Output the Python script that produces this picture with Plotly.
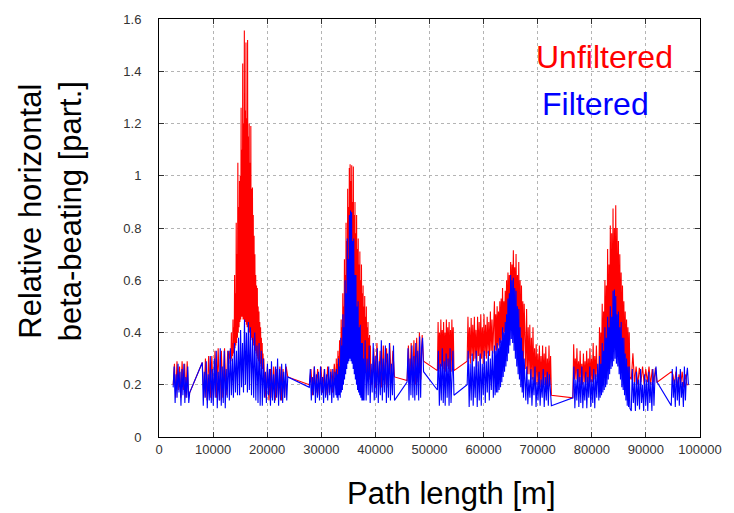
import numpy as np
import plotly.graph_objects as go

# ---- data: path-length ranges [m] and the beta-beating samples inside each ----
filt_s1 = [0.19, 0.27, 0.13, 0.24, 0.15, 0.28, 0.17, 0.25, 0.12, 0.26, 0.16, 0.28, 0.13, 0.23, 0.15, 0.27, 0.13, 0.17]
filt_s3a = [0.285, 0.12, 0.25, 0.15, 0.29, 0.11, 0.24, 0.14, 0.31, 0.13, 0.26, 0.12, 0.30, 0.15, 0.33, 0.11,
            0.25, 0.14, 0.34, 0.12, 0.27, 0.13, 0.33, 0.11, 0.26, 0.15, 0.33]
filt_s3b = [0.14, 0.34, 0.16, 0.30, 0.15, 0.36, 0.17, 0.33, 0.16, 0.38]
filt_s3c = [0.16, 0.41, 0.19, 0.36, 0.17, 0.45, 0.20, 0.40, 0.17, 0.44, 0.18]
filt_s3d = [0.42, 0.16, 0.38, 0.15, 0.40, 0.14, 0.35, 0.13, 0.36, 0.12, 0.33]
filt_s3e = [0.12, 0.30, 0.15, 0.25, 0.13, 0.28, 0.16, 0.26, 0.12, 0.29, 0.14, 0.24, 0.13, 0.27, 0.15, 0.30,
            0.12, 0.26, 0.14, 0.28, 0.13, 0.25, 0.15, 0.28, 0.14, 0.23]
filt_s5a = [0.19, 0.26, 0.14, 0.23, 0.16, 0.27, 0.13, 0.24, 0.15, 0.25, 0.14, 0.27, 0.16, 0.23, 0.13, 0.26,
            0.15, 0.24, 0.14, 0.27, 0.16, 0.25, 0.13, 0.26, 0.15, 0.25]
filt_s5b = [0.16, 0.26, 0.15, 0.24, 0.14, 0.30, 0.16, 0.27, 0.15, 0.38, 0.17, 0.35, 0.18, 0.47, 0.20, 0.42,
            0.22, 0.60, 0.24, 0.55, 0.26, 0.76, 0.28, 0.68, 0.29, 0.85, 0.30, 0.867, 0.29, 0.86, 0.28, 0.75,
            0.26, 0.76, 0.24, 0.62, 0.22, 0.62, 0.20, 0.50, 0.18, 0.52, 0.17, 0.42, 0.16, 0.43, 0.15, 0.36,
            0.14, 0.36, 0.14, 0.30, 0.14]
filt_s5c = [0.37, 0.14, 0.30, 0.16, 0.35, 0.13, 0.28, 0.17, 0.36, 0.14, 0.31, 0.15, 0.34, 0.13, 0.29, 0.16,
            0.37, 0.14, 0.30, 0.17, 0.35, 0.13, 0.32, 0.15, 0.36, 0.14, 0.28, 0.16, 0.35, 0.14]
filt_s7 = [0.21, 0.34, 0.14, 0.30, 0.16, 0.35, 0.15, 0.31, 0.14, 0.36, 0.16, 0.33, 0.14, 0.385, 0.15, 0.34, 0.38, 0.25]
filt_s8 = [0.18, 0.33, 0.12, 0.28, 0.14, 0.34, 0.13, 0.29, 0.12, 0.32, 0.15, 0.30, 0.12, 0.34, 0.13, 0.28, 0.33, 0.16]
filt_s9a = [0.20, 0.33, 0.115, 0.28, 0.14, 0.32, 0.12, 0.27, 0.15, 0.33, 0.115, 0.29, 0.14, 0.32, 0.12, 0.28,
            0.16, 0.33, 0.13, 0.29, 0.17, 0.33, 0.14, 0.30, 0.18, 0.33, 0.15]
filt_s9b = [0.35, 0.16, 0.33, 0.17, 0.36, 0.17, 0.34, 0.18, 0.38, 0.19, 0.37, 0.21, 0.42, 0.23, 0.40, 0.25,
            0.44, 0.27, 0.47, 0.29, 0.53, 0.32, 0.55, 0.35, 0.62, 0.375, 0.60, 0.36, 0.61, 0.33, 0.57, 0.30,
            0.56, 0.27, 0.50, 0.24, 0.49, 0.22, 0.42, 0.19, 0.38, 0.17, 0.33, 0.15, 0.30]
filt_s9c = [0.14, 0.27, 0.125, 0.22, 0.15, 0.26, 0.12, 0.23, 0.16, 0.27, 0.115, 0.21, 0.14, 0.25, 0.12, 0.22,
            0.15, 0.26, 0.115, 0.23, 0.14, 0.25, 0.12, 0.24, 0.15, 0.12]
filt_s11a = [0.15, 0.27, 0.11, 0.22, 0.14, 0.26, 0.115, 0.23, 0.13, 0.27, 0.11, 0.21, 0.14, 0.25, 0.11, 0.23,
             0.15, 0.27, 0.115, 0.22, 0.13, 0.26, 0.11, 0.24, 0.15, 0.28]
filt_s11b = [0.14, 0.31, 0.15, 0.28, 0.16, 0.36, 0.17, 0.33, 0.18, 0.42, 0.19, 0.38, 0.20, 0.46, 0.22, 0.42,
             0.24, 0.50, 0.26, 0.46, 0.27, 0.56, 0.29, 0.565, 0.30, 0.54, 0.28, 0.47, 0.27, 0.48, 0.24, 0.42,
             0.22, 0.44, 0.19, 0.38, 0.18, 0.38, 0.16, 0.32, 0.14, 0.30, 0.12, 0.27, 0.115, 0.27, 0.11]
filt_s11c = [0.10, 0.26, 0.13, 0.21, 0.10, 0.25, 0.12, 0.22, 0.105, 0.26, 0.13, 0.20, 0.10, 0.24, 0.12, 0.22,
             0.10, 0.25, 0.13, 0.21, 0.10, 0.26, 0.12, 0.23, 0.27, 0.21]
filt_s13 = [0.12, 0.26, 0.15, 0.22, 0.115, 0.27, 0.14, 0.23, 0.12, 0.26, 0.15, 0.21, 0.115, 0.27, 0.14, 0.23, 0.265, 0.20]

unf_s1 = [0.20, 0.28, 0.15, 0.29, 0.18, 0.27, 0.15, 0.29, 0.18, 0.28, 0.15, 0.29, 0.16, 0.17]
unf_s3a = [0.285, 0.15, 0.30, 0.14, 0.31, 0.15, 0.31, 0.14, 0.33, 0.15, 0.34, 0.14, 0.33, 0.15, 0.34, 0.16, 0.33]
unf_s3b = [0.30, 0.33, 0.28, 0.30, 0.29, 0.40, 0.30, 0.36, 0.31, 0.45, 0.32, 0.42, 0.33, 0.62, 0.34, 0.55,
           0.35, 0.82, 0.36, 0.70, 0.38, 1.05, 0.40, 0.88, 0.42, 0.98, 0.44, 1.00, 0.45, 1.26, 0.46, 1.10,
           0.46, 1.43, 0.45, 1.20, 0.45, 1.556, 0.44, 1.25, 0.44, 1.51, 0.43, 1.22, 0.42, 1.52, 0.42, 1.15,
           0.41, 1.20, 0.40, 1.05, 0.39, 1.19, 0.38, 0.95, 0.37, 0.955, 0.36, 0.85, 0.35, 0.77, 0.34, 0.70,
           0.33, 0.62, 0.32, 0.58, 0.31, 0.57, 0.30, 0.50, 0.29, 0.48, 0.28, 0.44, 0.28, 0.42, 0.27, 0.38,
           0.26, 0.36, 0.26, 0.32, 0.25, 0.30, 0.25]
unf_s3c = [0.15, 0.27, 0.14, 0.26, 0.15, 0.27, 0.14, 0.26, 0.15, 0.27, 0.14, 0.26, 0.15, 0.27, 0.23]
unf_s5a = [0.20, 0.26, 0.16, 0.27, 0.17, 0.26, 0.16, 0.27, 0.17, 0.26, 0.16, 0.27, 0.17, 0.26, 0.17, 0.28]
unf_s5b = [0.20, 0.30, 0.21, 0.28, 0.22, 0.33, 0.23, 0.31, 0.24, 0.37, 0.25, 0.34, 0.26, 0.45, 0.27, 0.42,
           0.28, 0.55, 0.29, 0.50, 0.30, 0.68, 0.32, 0.62, 0.34, 0.82, 0.36, 0.75, 0.38, 0.95, 0.40, 0.88,
           0.42, 1.03, 0.42, 1.044, 0.42, 0.98, 0.41, 1.04, 0.40, 0.90, 0.39, 1.035, 0.38, 0.85, 0.37, 0.90,
           0.36, 0.78, 0.35, 0.85, 0.34, 0.72, 0.33, 0.76, 0.32, 0.66, 0.31, 0.71, 0.30, 0.60, 0.29, 0.66,
           0.28, 0.55, 0.27, 0.58, 0.27, 0.50, 0.26, 0.54, 0.25, 0.46, 0.25, 0.50, 0.24, 0.42, 0.24, 0.44,
           0.23, 0.38, 0.23, 0.39, 0.22, 0.35, 0.22]
unf_s5c = [0.20, 0.34, 0.19, 0.36, 0.20, 0.33, 0.19, 0.35, 0.20, 0.34, 0.19, 0.36, 0.21, 0.33, 0.23]
unf_s7 = [0.216, 0.35, 0.20, 0.36, 0.21, 0.37, 0.20, 0.38, 0.21, 0.40, 0.22, 0.39, 0.29]
unf_s8 = [0.254, 0.44, 0.26, 0.40, 0.25, 0.45, 0.27, 0.41, 0.26, 0.44, 0.25, 0.40, 0.25, 0.45, 0.27, 0.42,
          0.26, 0.44, 0.25, 0.41, 0.25, 0.45, 0.27, 0.42, 0.254]
unf_s9a = [0.29, 0.46, 0.30, 0.42, 0.28, 0.455, 0.31, 0.43, 0.29, 0.46, 0.30, 0.41, 0.27, 0.46, 0.31, 0.44,
           0.29, 0.47, 0.30, 0.42, 0.28, 0.47, 0.31, 0.43, 0.30, 0.46, 0.32, 0.44, 0.31, 0.48, 0.33, 0.45, 0.32]
unf_s9b = [0.52, 0.33, 0.47, 0.33, 0.50, 0.34, 0.48, 0.35, 0.52, 0.36, 0.53, 0.37, 0.57, 0.38, 0.52, 0.40,
           0.56, 0.42, 0.60, 0.44, 0.63, 0.46, 0.62, 0.48, 0.67, 0.50, 0.66, 0.49, 0.715, 0.48, 0.65, 0.45,
           0.70, 0.42, 0.62, 0.39, 0.67, 0.36, 0.60, 0.33, 0.58, 0.30, 0.52, 0.28, 0.51]
unf_s9c = [0.26, 0.49, 0.24, 0.42, 0.24, 0.43, 0.22, 0.38, 0.22, 0.42, 0.21, 0.34, 0.21, 0.355, 0.20, 0.32,
           0.20, 0.35, 0.19, 0.31, 0.19, 0.35, 0.20, 0.32, 0.20, 0.345, 0.19, 0.30, 0.19, 0.35, 0.20, 0.31, 0.16]
unf_s11a = [0.15, 0.355, 0.22, 0.30, 0.22, 0.34, 0.21, 0.29, 0.21, 0.33, 0.20, 0.28, 0.20, 0.32, 0.21, 0.29,
            0.21, 0.33, 0.20, 0.30, 0.20, 0.34, 0.21, 0.30, 0.21, 0.36, 0.22, 0.31, 0.22, 0.35, 0.23]
unf_s11b = [0.24, 0.42, 0.25, 0.40, 0.26, 0.51, 0.27, 0.48, 0.28, 0.60, 0.29, 0.58, 0.30, 0.72, 0.32, 0.66,
            0.33, 0.81, 0.35, 0.78, 0.36, 0.875, 0.37, 0.80, 0.38, 0.887, 0.37, 0.80, 0.36, 0.75, 0.35, 0.70,
            0.33, 0.63, 0.31, 0.58, 0.30, 0.52, 0.28, 0.48, 0.27, 0.45, 0.25, 0.42, 0.24, 0.40, 0.23]
unf_s11c = [0.22, 0.32, 0.21, 0.27, 0.20, 0.265, 0.21, 0.27, 0.20, 0.26, 0.21, 0.27, 0.20, 0.26, 0.21, 0.265, 0.21]
unf_s13 = [0.25, 0.24, 0.20, 0.25, 0.19, 0.24, 0.20, 0.25, 0.19, 0.24, 0.20, 0.20]

filt_ranges = [(2620, 5680), (8000, 12800), (13000, 14700), (14900, 16700), (16900, 18900), (19100, 23800),
               (27780, 32500), (32700, 37900), (38100, 43530), (45850, 48900), (51460, 54520),
               (56960, 61800), (62000, 67500), (67800, 72530), (76500, 81100), (81300, 87050),
               (87300, 92060), (94690, 97860)]
filt_chunks = [filt_s1, filt_s3a, filt_s3b, filt_s3c, filt_s3d, filt_s3e, filt_s5a, filt_s5b, filt_s5c,
               filt_s7, filt_s8, filt_s9a, filt_s9b, filt_s9c, filt_s11a, filt_s11b, filt_s11c, filt_s13]

unf_ranges = [(2620, 5680), (8000, 12700), (13000, 19450), (19750, 23800), (27780, 32400), (32700, 39150),
              (39400, 43530), (45850, 48900), (51460, 54520), (56960, 61700), (62000, 67500), (67800, 72530),
              (76500, 81000), (81300, 87050), (87300, 92060), (94690, 97860)]
unf_chunks = [unf_s1, unf_s3a, unf_s3b, unf_s3c, unf_s5a, unf_s5b, unf_s5c, unf_s7, unf_s8, unf_s9a, unf_s9b,
              unf_s9c, unf_s11a, unf_s11b, unf_s11c, unf_s13]

x_ticks = [0, 10000, 20000, 30000, 40000, 50000, 60000, 70000, 80000, 90000, 100000]
y_ticks = [0, 0.2, 0.4, 0.6, 0.8, 1.0, 1.2, 1.4, 1.6]
y_tick_text = ["0", "0.2", "0.4", "0.6", "0.8", "1", "1.2", "1.4", "1.6"]


def build(ranges, chunks):
    xs, ys = [], []
    for (a, b), vals in zip(ranges, chunks):
        xs.extend(np.linspace(a, b, len(vals)).tolist())
        ys.extend(vals)
    return xs, ys


ux, uy = build(unf_ranges, unf_chunks)
fx, fy = build(filt_ranges, filt_chunks)

FONT = "Liberation Sans, Arial, sans-serif"

fig = go.Figure()
fig.add_trace(go.Scatter(x=ux, y=uy, mode="lines", line=dict(color="#ff0000", width=1.1),
                         name="Unfiltered", showlegend=False, hoverinfo="skip"))
fig.add_trace(go.Scatter(x=fx, y=fy, mode="lines", line=dict(color="#0000ff", width=1.1),
                         name="Filtered", showlegend=False, hoverinfo="skip"))

axis_common = dict(showline=True, linecolor="black", linewidth=1, mirror="allticks",
                   ticks="inside", ticklen=5, tickcolor="#333333", tickwidth=1,
                   showgrid=True, gridcolor="#b4b4b4", gridwidth=1, griddash="dot",
                   zeroline=False, tickfont=dict(family=FONT, size=13, color="#333333"))

fig.update_xaxes(range=[0, 100000], tickvals=x_ticks, ticktext=[str(v) for v in x_ticks], **axis_common)
fig.update_yaxes(range=[0, 1.6], tickvals=y_ticks, ticktext=y_tick_text, ticklabelstandoff=14, **axis_common)

fig.add_annotation(text="Unfiltered", xref="paper", yref="paper", x=0.823, y=0.909, showarrow=False,
                   xanchor="center", yanchor="middle", font=dict(family=FONT, size=32, color="#ff0000"))
fig.add_annotation(text="Filtered", xref="paper", yref="paper", x=0.807, y=0.797, showarrow=False,
                   xanchor="center", yanchor="middle", font=dict(family=FONT, size=32, color="#0000ff"))
fig.add_annotation(text="Path length [m]", xref="paper", yref="paper", x=0.540, y=-0.135, showarrow=False,
                   xanchor="center", yanchor="middle", font=dict(family=FONT, size=31, color="black"))
fig.add_annotation(text="Relative horizontal<br>beta-beating [part.]", xref="paper", yref="paper",
                   x=-0.2014, y=0.540, showarrow=False, textangle=-90,
                   xanchor="center", yanchor="middle", font=dict(family=FONT, size=31, color="black"))

fig.update_layout(width=734, height=513, margin=dict(l=159, r=29, t=15, b=76),
                  paper_bgcolor="white", plot_bgcolor="white", showlegend=False, hovermode=False)

fig.write_html("out.html", config={"displayModeBar": False},
               post_script="document.body.style.margin='0';")
